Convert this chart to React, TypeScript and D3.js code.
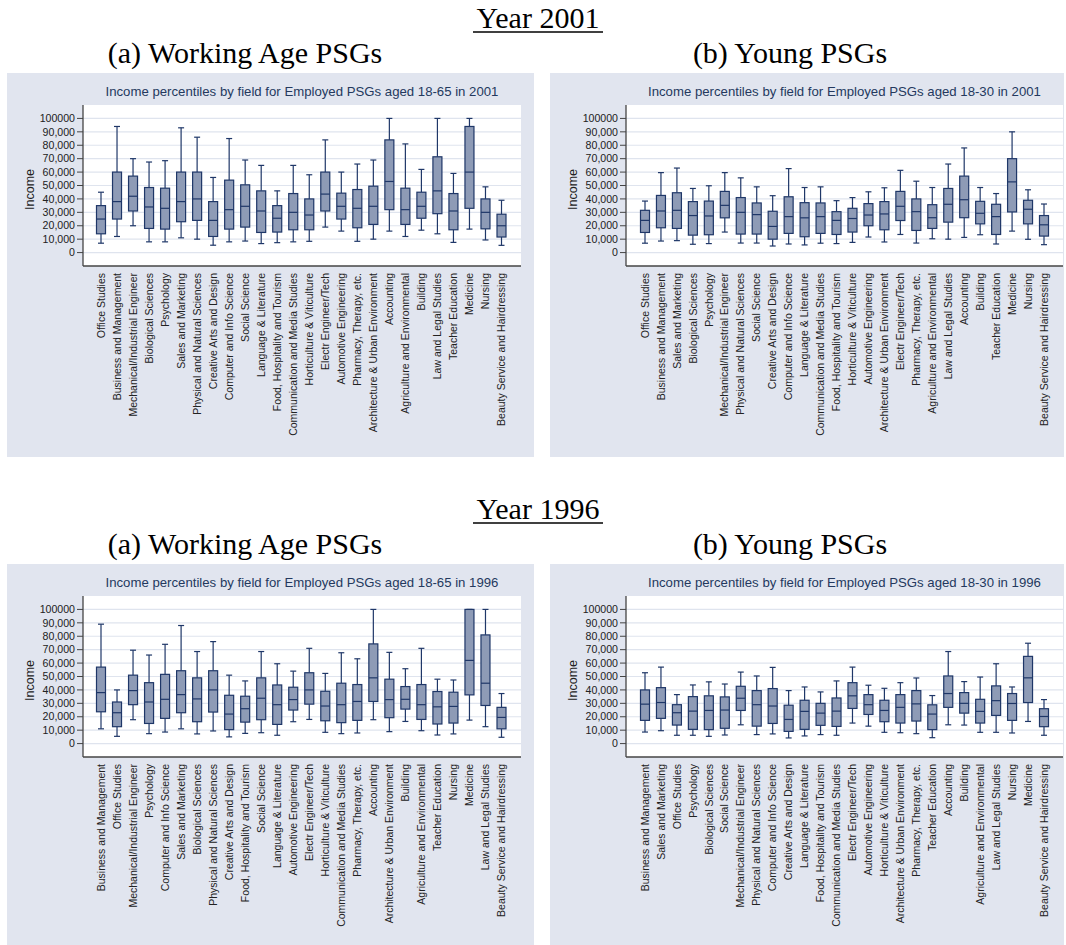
import * as d3 from "d3";

// box values in thousands: [lower whisker, q1, median, q3, upper whisker]
const cats2001Work = [
  "Office Studies", "Business and Management", "Mechanical/Industrial Engineer", "Biological Sciences",
  "Psychology", "Sales and Marketing", "Physical and Natural Sciences", "Creative Arts and Design",
  "Computer and Info Science", "Social Science", "Language & Literature", "Food, Hospitality and Tourism",
  "Communication and Media Studies", "Horticulture & Viticulture", "Electr Engineer/Tech", "Automotive Engineering",
  "Pharmacy, Therapy, etc.", "Architecture & Urban Environment", "Accounting", "Agriculture and Environmental",
  "Building", "Law and Legal Studies", "Teacher Education", "Medicine", "Nursing", "Beauty Service and Hairdressing"
];
const box2001Work = [
  [7, 14, 25, 35, 45], [12, 25, 38, 60, 94], [20, 31, 42, 57, 70], [8, 18, 34, 48.5, 67.5],
  [8, 17.5, 33, 48, 68.5], [11, 23, 38, 60, 93], [10, 24, 40, 60, 86], [5.5, 12, 24, 38, 56],
  [8, 17.5, 32, 54, 85], [8.6, 19, 34.5, 50.5, 69], [6.7, 15, 31, 46, 65], [7.4, 15.3, 25.6, 35, 46],
  [8, 17, 30, 44, 65], [8.4, 17, 28, 40, 58], [19, 31, 43.6, 60, 84], [16, 25, 34.5, 44.3, 60],
  [8.4, 18.5, 33, 47, 66], [10, 21, 34.5, 49.5, 69], [16, 32, 53, 84, 100], [12, 21, 32, 48, 81],
  [16.7, 25.6, 34.5, 45, 62], [14, 29, 46, 71.4, 100], [7.6, 17, 31, 44, 59], [17.5, 33, 60, 94, 100],
  [9.4, 17.7, 30, 40, 49], [5.4, 11.6, 20, 28.6, 39]
];

const cats2001Young = [
  "Office Studies", "Business and Management", "Sales and Marketing", "Biological Sciences", "Psychology",
  "Mechanical/Industrial Engineer", "Physical and Natural Sciences", "Social Science", "Creative Arts and Design",
  "Computer and Info Science", "Language & Literature", "Communication and Media Studies",
  "Food, Hospitality and Tourism", "Horticulture & Viticulture", "Automotive Engineering",
  "Architecture & Urban Environment", "Electr Engineer/Tech", "Pharmacy, Therapy, etc.",
  "Agriculture and Environmental", "Law and Legal Studies", "Accounting", "Building", "Teacher Education",
  "Medicine", "Nursing", "Beauty Service and Hairdressing"
];
const box2001Young = [
  [7, 15, 24, 31.5, 38.4], [8.6, 18.5, 31, 42.6, 59.6], [8.9, 18, 31.5, 44.6, 63], [6.2, 13, 27.6, 38, 47.8],
  [6.7, 13.3, 27.3, 38.4, 49.8], [15.3, 25.9, 35.2, 45.6, 59.6], [7.1, 13.8, 30, 41, 55.7], [7.1, 13.8, 28.3, 37, 49],
  [4.9, 10, 19.5, 30.8, 42.4], [6.4, 14.3, 26.8, 41.6, 62.6], [5.7, 11.8, 25.9, 37.2, 48.5], [7, 14.3, 26.8, 37, 49],
  [6.7, 13.5, 24, 30.5, 38.7], [7.6, 15.3, 25.4, 33, 41], [11.6, 20, 28, 36.5, 45.3], [7.9, 17, 28.8, 38, 48.3],
  [13.5, 23.9, 34.5, 45.6, 61.3], [7.1, 16.5, 30.5, 40, 53.2], [10.3, 18, 26, 35.7, 48.5], [10, 22.7, 36, 47.8, 66],
  [11.3, 26, 39.4, 57, 78], [13.3, 21.4, 29.3, 38.2, 48.5], [6.4, 13.5, 26.8, 36, 44], [16, 30.3, 52.7, 70, 90],
  [9.9, 21.4, 32.3, 39, 46.8], [5.9, 12.3, 20.7, 27.6, 36.2]
];

const cats1996Work = [
  "Business and Management", "Office Studies", "Mechanical/Industrial Engineer", "Psychology",
  "Computer and Info Science", "Sales and Marketing", "Biological Sciences", "Physical and Natural Sciences",
  "Creative Arts and Design", "Food, Hospitality and Tourism", "Social Science", "Language & Literature",
  "Automotive Engineering", "Electr Engineer/Tech", "Horticulture & Viticulture", "Communication and Media Studies",
  "Pharmacy, Therapy, etc.", "Accounting", "Architecture & Urban Environment", "Building",
  "Agriculture and Environmental", "Teacher Education", "Nursing", "Medicine", "Law and Legal Studies",
  "Beauty Service and Hairdressing"
];
const box1996Work = [
  [11, 23.7, 38, 57, 89], [5.4, 12.6, 23, 31, 40], [17.8, 29, 39.5, 51, 69.6], [7.4, 15, 31, 45.4, 66],
  [8.6, 18.8, 33, 51.6, 74], [11, 23, 36.5, 54.3, 88], [7.2, 16.3, 33.3, 49, 68.6], [9.4, 23.5, 40, 54.3, 76],
  [5, 10.4, 22, 36, 51], [7.6, 16, 26, 35.3, 46.7], [8.1, 17.8, 33.8, 49, 68.6], [6.2, 14.3, 29, 43.7, 59.5],
  [16.3, 25, 32.8, 42, 54], [18, 29.4, 40, 52.8, 71], [8.4, 17, 28, 39, 52.3], [7.4, 15.6, 29, 45, 67.7],
  [7.9, 17.3, 31.4, 44, 63.2], [17.8, 31.4, 49, 74.3, 100], [8.9, 19.3, 32.8, 48, 68], [16.5, 25.7, 33, 42.5, 55.8],
  [9.6, 18, 29, 44, 71], [6.4, 14.6, 27.4, 38.8, 48], [7.2, 15.3, 27.7, 38.3, 47.4], [17.5, 36.3, 62, 100, 100],
  [12.6, 28.4, 45, 81, 100], [4.7, 11, 19.5, 27, 37.3]
];

const cats1996Young = [
  "Business and Management", "Sales and Marketing", "Office Studies", "Psychology", "Biological Sciences",
  "Social Science", "Mechanical/Industrial Engineer", "Physical and Natural Sciences", "Computer and Info Science",
  "Creative Arts and Design", "Language & Literature", "Food, Hospitality and Tourism",
  "Communication and Media Studies", "Electr Engineer/Tech", "Automotive Engineering", "Horticulture & Viticulture",
  "Architecture & Urban Environment", "Pharmacy, Therapy, etc.", "Teacher Education", "Accounting", "Building",
  "Agriculture and Environmental", "Law and Legal Studies", "Nursing", "Medicine", "Beauty Service and Hairdressing"
];
const box1996Young = [
  [8.6, 17.3, 29.4, 40, 52.8], [9.6, 18.8, 30.6, 41.7, 57], [6.2, 13.8, 23, 29, 36.5], [6.2, 10.6, 24.2, 35, 43.7],
  [5.4, 10.4, 24.7, 35.6, 46], [6.4, 11.4, 25, 34.8, 44.4], [14, 24.7, 33.8, 42.7, 53.3], [6.7, 13, 29, 39.5, 50.4],
  [7.2, 15, 28, 41, 56.8], [4.2, 9.1, 18, 28.6, 39.5], [5.7, 10.6, 24, 32.3, 42.2], [6.7, 13.6, 22.7, 30, 38.5],
  [6.2, 12.8, 24.2, 34, 46.7], [15.3, 26.2, 35.6, 45.4, 57], [13, 21.7, 29, 36.5, 43.5], [8.4, 16.3, 24.7, 32.3, 41.2],
  [8.1, 15.3, 27, 36.5, 45.4], [7.4, 16.8, 29.6, 39.5, 48.9], [4.4, 10.4, 22, 28.9, 35.8], [14, 27, 37.3, 50.4, 68.6],
  [13.8, 22.7, 30, 38, 46.2], [8.4, 15.3, 24, 33, 49.6], [8.4, 21, 32, 43, 59.5], [7.9, 17.3, 29.9, 37.3, 42.2],
  [16.5, 30.6, 49, 65, 74.8], [6.2, 12.6, 20.2, 26, 32.8]
];

const yTicks = d3.range(0, 100001, 10000);

const NAVY = "#1f3768";
const BOX_FILL = "#8e9bb6";
const BG = "#e1e5ef";
const GRID = "#dfe4ee";
const SANS = "'Liberation Sans', Arial, sans-serif";
const SERIF = "'Liberation Serif', 'Times New Roman', serif";

type PanelProps = {
  bg: { x: number; y: number; w: number; h: number };
  plot: { left: number; right: number; top: number; bottom: number };
  pad: [number, number];
  title: string;
  cats: string[];
  boxes: number[][];
};

function BoxPanel({ bg, plot, pad, title, cats, boxes }: PanelProps) {
  const x = d3.scalePoint<string>().domain(cats).range([plot.left + pad[0], plot.right - pad[1]]);
  const y = d3.scaleLinear().domain([-10000, 110000]).range([plot.bottom, plot.top]);
  const fmt = d3.format(",");
  const boxW = 9;
  const capW = 6;

  return (
    <g>
      <rect x={bg.x} y={bg.y} width={bg.w} height={bg.h} fill={BG} />
      <rect x={plot.left} y={plot.top} width={plot.right - plot.left} height={plot.bottom - plot.top} fill="#fff" />
      <text
        x={(plot.left + plot.right) / 2}
        y={plot.top - 9}
        textAnchor="middle"
        fontFamily={SANS}
        fontSize={13.2}
        fill="#24395e"
      >
        {title}
      </text>
      {yTicks.map((t) => (
        <g key={t}>
          <line x1={plot.left} x2={plot.right} y1={y(t)} y2={y(t)} stroke={GRID} strokeWidth={1.2} />
          <line x1={plot.left - 6} x2={plot.left} y1={y(t)} y2={y(t)} stroke="#444" strokeWidth={1} />
          <text
            x={plot.left - 8}
            y={y(t)}
            dy="0.35em"
            textAnchor="end"
            fontFamily={SANS}
            fontSize={10.6}
            fill="#222"
          >
            {t === 100000 ? "100000" : fmt(t)}
          </text>
        </g>
      ))}
      <text
        transform={`translate(${plot.left - 53.5},${(plot.top + plot.bottom) / 2 + 4}) rotate(-90)`}
        dy="0.35em"
        textAnchor="middle"
        fontFamily={SANS}
        fontSize={12.5}
        fill="#222"
      >
        Income
      </text>
      {cats.map((c, i) => {
        const [lo, q1, med, q3, hi] = boxes[i].map((v) => v * 1000);
        const cx = x(c) as number;
        return (
          <g key={c} stroke={NAVY} strokeWidth={1.2}>
            <line x1={cx} x2={cx} y1={y(hi)} y2={y(q3)} />
            <line x1={cx} x2={cx} y1={y(q1)} y2={y(lo)} />
            <line x1={cx - capW / 2} x2={cx + capW / 2} y1={y(hi)} y2={y(hi)} />
            <line x1={cx - capW / 2} x2={cx + capW / 2} y1={y(lo)} y2={y(lo)} />
            <rect x={cx - boxW / 2} y={y(q3)} width={boxW} height={Math.max(0.5, y(q1) - y(q3))} fill={BOX_FILL} />
            <line x1={cx - boxW / 2} x2={cx + boxW / 2} y1={y(med)} y2={y(med)} />
          </g>
        );
      })}
      <line x1={plot.left} x2={plot.left} y1={plot.top} y2={plot.bottom} stroke="#444" strokeWidth={1.3} />
      <line x1={plot.left} x2={plot.right} y1={plot.bottom} y2={plot.bottom} stroke="#444" strokeWidth={1.3} />
      {cats.map((c) => (
        <text
          key={c}
          transform={`translate(${x(c)},${plot.bottom + 7}) rotate(-90)`}
          dy="0.35em"
          textAnchor="end"
          fontFamily={SANS}
          fontSize={10.5}
          fill="#222"
        >
          {c}
        </text>
      ))}
    </g>
  );
}

function Heading({ cx, y, text, underline }: { cx: number; y: number; text: string; underline?: boolean }) {
  return (
    <g>
      <text x={cx} y={y} textAnchor="middle" fontFamily={SERIF} fontSize={30} fill="#000">
        {text}
      </text>
      {underline && <line x1={cx - 65} x2={cx + 65} y1={y + 4} y2={y + 4} stroke="#000" strokeWidth={1.5} />}
    </g>
  );
}

export default function App() {
  const shift = 491;
  const topPlot = { top: 105, bottom: 266 };
  const lowPlot = { top: 105 + shift, bottom: 266 + shift };

  return (
    <svg width={1066} height={945} style={{ position: "absolute", left: 0, top: 0 }}>
      <rect width={1066} height={945} fill="#fff" />
      <Heading cx={538} y={28} text="Year 2001" underline />
      <Heading cx={245} y={63} text="(a) Working Age PSGs" />
      <Heading cx={790} y={63} text="(b) Young PSGs" />
      <BoxPanel
        bg={{ x: 7, y: 73, w: 527, h: 384 }}
        plot={{ left: 83, right: 521, ...topPlot }}
        pad={[18, 19.5]}
        title="Income percentiles by field for Employed PSGs aged 18-65 in 2001"
        cats={cats2001Work}
        boxes={box2001Work}
      />
      <BoxPanel
        bg={{ x: 550, y: 73, w: 514, h: 384 }}
        plot={{ left: 626, right: 1063, ...topPlot }}
        pad={[19, 19]}
        title="Income percentiles by field for Employed PSGs aged 18-30 in 2001"
        cats={cats2001Young}
        boxes={box2001Young}
      />
      <Heading cx={538} y={28 + shift} text="Year 1996" underline />
      <Heading cx={245} y={63 + shift} text="(a) Working Age PSGs" />
      <Heading cx={790} y={63 + shift} text="(b) Young PSGs" />
      <BoxPanel
        bg={{ x: 7, y: 73 + shift, w: 527, h: 384 }}
        plot={{ left: 83, right: 521, ...lowPlot }}
        pad={[18, 19.5]}
        title="Income percentiles by field for Employed PSGs aged 18-65 in 1996"
        cats={cats1996Work}
        boxes={box1996Work}
      />
      <BoxPanel
        bg={{ x: 550, y: 73 + shift, w: 514, h: 384 }}
        plot={{ left: 626, right: 1063, ...lowPlot }}
        pad={[19, 19]}
        title="Income percentiles by field for Employed PSGs aged 18-30 in 1996"
        cats={cats1996Young}
        boxes={box1996Young}
      />
    </svg>
  );
}
